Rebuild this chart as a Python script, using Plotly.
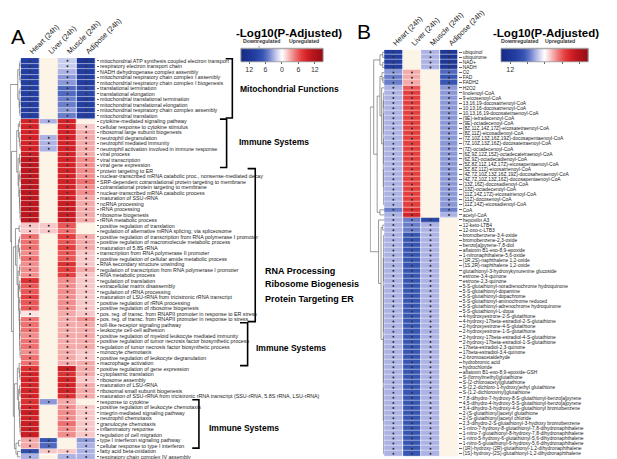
import plotly.graph_objects as go

W, H = 617, 459
def px(x): return x / W
def py(y): return 1 - y / H

N = None
columns = ["Heart (24h)", "Liver (24h)", "Muscle (24h)", "Adipose (24h)"]

a_labels = [
    "mitochondrial ATP synthesis coupled electron transport",
    "respiratory electron transport chain",
    "NADH dehydrogenase complex assembly",
    "mitochondrial respiratory chain complex I assembly",
    "mitochondrial respiratory chain complex I biogenesis",
    "translational termination",
    "translational elongation",
    "mitochondrial translational termination",
    "mitochondrial translational elongation",
    "mitochondrial respiratory chain complex assembly",
    "mitochondrial translation",
    "cytokine-mediated signaling pathway",
    "cellular response to cytokine stimulus",
    "ribosomal large subunit biogenesis",
    "neutrophil degranulation",
    "neutrophil mediated immunity",
    "neutrophil activation involved in immune response",
    "viral process",
    "viral transcription",
    "viral gene expression",
    "protein targeting to ER",
    "nuclear-transcribed mRNA catabolic proc., nonsense-mediated decay",
    "SRP-dependent cotranslational protein targeting to membrane",
    "cotranslational protein targeting to membrane",
    "nuclear-transcribed mRNA catabolic process",
    "maturation of SSU-rRNA",
    "ncRNA processing",
    "rRNA processing",
    "ribosome biogenesis",
    "rRNA metabolic process",
    "positive regulation of translation",
    "regulation of alternative mRNA splicing, via spliceosome",
    "positive regulation of transcription from RNA polymerase I promoter",
    "positive regulation of macromolecule metabolic process",
    "maturation of 5.8S rRNA",
    "transcription from RNA polymerase II promoter",
    "positive regulation of cellular amide metabolic process",
    "RNA secondary structure unwinding",
    "regulation of transcription from RNA polymerase I promoter",
    "RNA metabolic process",
    "regulation of translation",
    "extracellular matrix disassembly",
    "regulation of rRNA processing",
    "maturation of LSU-rRNA from tricistronic rRNA transcript",
    "positive regulation of rRNA processing",
    "positive regulation of ribosome biogenesis",
    "pos. reg. of transc. from RNAPII promoter in response to ER stress",
    "pos. reg. of transc. from RNAPII promoter in response to stress",
    "toll-like receptor signaling pathway",
    "leukocyte cell-cell adhesion",
    "positive regulation of myeloid leukocyte mediated immunity",
    "positive regulation of tumor necrosis factor biosynthetic process",
    "regulation of tumor necrosis factor biosynthetic process",
    "monocyte chemotaxis",
    "positive regulation of leukocyte degranulation",
    "macrophage activation",
    "positive regulation of gene expression",
    "cytoplasmic translation",
    "ribosome assembly",
    "maturation of LSU-rRNA",
    "ribosomal small subunit biogenesis",
    "maturation of SSU-rRNA from tricistronic rRNA transcript (SSU-rRNA, 5.8S rRNA, LSU-rRNA)",
    "response to cytokine",
    "positive regulation of leukocyte chemotaxis",
    "integrin-mediated signaling pathway",
    "neutrophil chemotaxis",
    "granulocyte chemotaxis",
    "inflammatory response",
    "regulation of cell migration",
    "type I interferon signaling pathway",
    "cellular response to type I interferon",
    "fatty acid beta-oxidation",
    "respiratory chain complex IV assembly",
]

a_heart = [-10, -10, -10, -10, -10, -10, -10, -10, -10, -10, -10,
           9, 9, 9, 9, 9, 9, 10, 11, 11, 11, 11, 11, 11, 11, 11, 11, 11, 11, 11,
           2, 2, 5, 5, 5, 4, 5, 4, 4, 4, 8, 6, 6, 7, 6, 6, 1, 5, 5, 5, 4, 5, 5, 4, 5, 5,
           8, 9, 9, 9, 9, 9, 8, 9, 10, 9, 10, 10, 10, 3, 3, -8, -3]
a_liver = [N, N, N, N, N, N, N, N, N, N, N,
           -3, N, N, -3, -3, -3, N, N, N, N, N, N, N, N, N, N, N, N, N,
           2, 2, N, N, N, N, N, N, N, N, N, N, N, N, N, N, N, N, N, N, N, N, N, N, N, N,
           N, N, N, N, N, N, -4, N, N, N, N, N, N, -7, -6, 2, N]
a_muscle = [-2, -2, -3, -4, -4, -6, -6, -5, -5, -4, -5,
            9, 9, 9, 9, 9, 9, 9, 9, 9, 9, 9, 9, 9, 9, 9, 10, 10, 10, 10,
            6, 5, 7, 6, 7, 6, 6, 8, 7, 7, 4, 4, 4, 4, 4, 4, 3, 3, 3, 3, 3, 3, 3, 3, 3, 3,
            10, 8, 9, 9, 9, 8, 3, 4, 4, 4, 5, 4, 4, N, N, 2, -3]
a_adipose = [-12, -10, -10, -10, -10, -9, -9, -10, -10, -10, -10,
             N, 2, 3, 3, 3, 3, 3, 4, 4, 4, 4, 5, 4, 4, 3, 3, 3, 3, 3,
             N, N, 3, 3, 3, 2, 2, 2, 3, 2, 2, 2, 2, 2, 2, 2, 2, 4, 3, 3, 3, 3, 3, 2, 2, 3,
             3, 3, 2, 3, 3, 3, N, 2, 2, 2, 2, 2, 2, -4, -3, -3, -3]

b_labels = [
    "ubiquinol", "ubiquinone", "NAD+", "NADH", "O2", "FAD", "FADH2", "H2O2",
    "linolenoyl-CoA", "9-eicosenoyl-CoA", "13,16,19-docosatrienoyl-CoA",
    "10,13,16-docosatrienoyl-CoA", "10,13,16,19-docosatetraenoyl-CoA",
    "(9E)-tetradecenoyl-CoA", "(9E)-octadecenoyl-CoA",
    "(8Z,11Z,14Z,17Z)-eicosatetraenoyl-CoA", "(8Z,11Z)-eicosadienoyl-CoA",
    "(7Z,10Z,13Z,16Z,19Z)-docosapentaenoyl-CoA", "(7Z,10Z,13Z,16Z)-docosatetraenoyl-CoA",
    "(7Z)-octadecenoyl-CoA", "(6Z,9Z,12Z,15Z)-octadecatetraenoyl-CoA",
    "(6Z,9Z)-octadecadienoyl-CoA", "(5Z,8Z,11Z,14Z,17Z)-eicosapentaenoyl-CoA",
    "(5Z,8Z,11Z)-eicosatrienoyl-CoA", "(4Z,7Z,10Z,13Z,16Z,19Z)-docosahexaenoyl-CoA",
    "(4Z,7Z,10Z,13Z,16Z)-docosapentaenoyl-CoA", "(13Z,16Z)-docosadienoyl-CoA",
    "(13Z)-octadecenoyl-CoA", "(11Z,14Z,17Z)-eicosatrienoyl-CoA",
    "(11Z)-docosenoyl-CoA", "(11Z,14Z)-eicosadienoyl-CoA", "CoA", "acetyl-CoA",
    "hepoxilin A3", "12-keto-LTB4", "12-oxo-c-LTB3", "bromobenzene-3,4-oxide",
    "bromobenzene-2,3-oxide", "benzo[a]pyrene-7,8-diol", "aflatoxin B1-exo-8,9-epoxide",
    "1-nitronaphthalene-5,6-oxide", "(1R,2S)-naphthalene 1,2-oxide",
    "(1S,2R)-naphthalene 1,2-oxide", "glutathionyl-3-hydroxykynurenine glucoside",
    "estrone-3,4-quinone", "estrone-2,3-quinone",
    "5-S-glutathionyl-noradrenochrome hydroquinone", "5-S-glutathionyl-dopamine",
    "5-S-glutathionyl-dopachrome", "5-S-glutathionyl-aminochrome reduced",
    "5-S-glutathionyl-adrenochrome hydroquinone", "5-S-glutathionyl-L-dopa",
    "4-hydroxyestrone-2-S-glutathione", "4-hydroxy-17beta-estradiol-2-S-glutathione",
    "2-hydroxyestrone-4-S-glutathione", "2-hydroxyestrone-1-S-glutathione",
    "2-hydroxy-17beta-estradiol-4-S-glutathione", "2-hydroxy-17beta-estradiol-1-S-glutathione",
    "17beta-estradiol-2,3-quinone", "17beta-estradiol-3,4-quinone",
    "2-bromoacetaldehyde", "hydrobromic acid", "hydrochloride",
    "aflatoxin B1-exo-8,9-epoxide-GSH", "S-(formylmethyl)glutathione",
    "S-(2-chloroacetyl)glutathione", "S-(2,2-dichloro-1-hydroxy)ethyl glutathione",
    "S-(1,2-dichlorovinyl)glutathione",
    "7,8-dihydro-7-hydroxy-8-S-glutathionyl-benzo[a]pyrene",
    "4,5-dihydro-4-hydroxy-5-S-glutathionyl-benzo[a]pyrene",
    "3,4-dihydro-3-hydroxy-4-S-glutathionyl bromobenzene",
    "2-(S-glutathionyl)acetyl glutathione", "2-(S-glutathionyl)acetyl chloride",
    "2,3-dihydro-2-S-glutathionyl-3-hydroxy bromobenzene",
    "1-nitro-7-hydroxy-8-glutathionyl-7,8-dihydronaphthalene",
    "1-nitro-7-glutathionyl-8-hydroxy-7,8-dihydronaphthalene",
    "1-nitro-5-hydroxy-6-glutathionyl-5,6-dihydronaphthalene",
    "1-nitro-5-glutathionyl-6-hydroxy-5,6-dihydronaphthalene",
    "(1R)-hydroxy-(2R)-glutathionyl-1,2-dihydronaphthalene",
    "(1S)-hydroxy-(2S)-glutathionyl-1,2-dihydronaphthalene",
]

b_heart = [-10, -10, -10, -10, -4, -5, -5, -3,
           -3, -3, -3, -3, -3, -3, -3, -3, -3, -3, -3, -3, -3, -3, -3, -3, -3, -3, -3, -3, -3, -3, -3,
           -5, -3, -3, -3, -3,
           -3, -3, -3, -3, -3, -3, -3, -3, -3, -3, -3, -3, -3, -3, -3, -3, -3, -3, -3, -3, -3, -3,
           -3, -3, -3, -3, -3, -3, -3, -3, -3, -3, -3, -3, -3, -3, -3, -3, -3, -3, -3, -3, -3, -3]
b_liver = [N, N, N, N, 3, 3, 3, 6,
           7, 7, 7, 7, 7, 7, 7, 7, 7, 7, 7, 7, 7, 7, 7, 7, 7, 7, 7, 7, 7, 7, 7,
           8, 9, -5, -5, -5,
           -7, -7, -7, -7, -7, -7, -7, -7, -7, -7, -7, -7, -7, -7, -7, -7, -7, -7, -7, -7, -7, -7,
           -7, -7, -7, -7, -7, -7, -7, -7, -7, -7, -7, -7, -7, -7, -7, -7, -7, -7, -7, -7, -7, -7]
b_muscle = [-3, -3, -3, -3, N, N, N, N,
            N, N, N, N, N, N, N, N, N, N, N, N, N, N, N, N, N, N, N, N, N, N, N,
            N, N, -9, -3, -3,
            -3, -3, -3, -3, -3, -3, -3, -3, -3, -3, -3, -3, -3, -3, -3, -3, -3, -3, -3, -3, -3, -3,
            -3, -3, -3, -3, -3, -3, -3, -3, -3, -3, -3, -3, -3, -3, -3, -3, -3, -3, -3, -3, -3, -3]
b_adipose = [-12, -12, -12, -12, -6, -7, -7, -4,
             -4, -4, -4, -4, -4, -4, -4, -4, -4, -4, -4, -4, -4, -4, -4, -4, -4, -4, -4, -4, -4, -4, -4,
             -5, -3, N, N, N,
             N, N, N, N, N, N, N, N, N, N, N, N, N, N, N, N, N, N, N, N, N, N,
             N, N, N, N, N, N, N, N, N, N, N, N, N, N, N, N, N, N, N, N, N, N]

# dendrograms: [merge height, child, child, ...]; ints are row indices
a_tree = [1.0,
          [0.28, [0.12, [0.06, 0, 1], [0.08, 2, [0.04, 3, 4]]],
                 [0.15, [0.06, 5, 6], [0.1, [0.05, 7, 8], [0.07, 9, 10]]]],
          [0.88,
           [0.38, [0.22, [0.1, 11, 12], [0.14, 13, [0.08, 14, [0.05, 15, 16]]]],
                  [0.25, [0.12, 17, [0.06, 18, 19]],
                         [0.18, [0.08, 20, [0.05, 21, 22]],
                                [0.12, [0.06, 23, 24], [0.1, 25, [0.07, 26, [0.05, 27, [0.04, 28, 29]]]]]]]],
           [0.7,
            [0.5, [0.15, 30, 31],
                  [0.35, [0.2, [0.1, 32, 33], [0.12, 34, [0.08, 35, 36]]],
                         [0.25, [0.12, [0.06, 37, 38], 39],
                                [0.2, [0.1, 40, [0.06, 41, 42]],
                                      [0.15, [0.08, 43, 44],
                                             [0.12, [0.05, 45, 46],
                                                    [0.1, [0.06, 47, 48],
                                                          [0.09, [0.05, 49, 50], [0.07, 51, [0.05, 52, [0.04, 53, 54]]]]]]]]]]],
            [0.6,
             [0.32, [0.15, 55, [0.1, 56, [0.06, 57, 58]]],
                    [0.2, [0.1, 59, [0.05, 60, 61]],
                          [0.14, 62, [0.1, [0.05, 63, 64], [0.08, 65, [0.05, 66, [0.04, 67, 68]]]]]]],
             [0.45, [0.2, 69, 70], [0.3, 71, 72]]]]]]

b_tree = [1.0,
          [0.75, [0.3, [0.1, 0, 1], [0.1, 2, 3]],
                 [0.5, [0.3, [0.15, 4, [0.08, 5, 6]],
                             [0.18, 7, [0.06, [0.03, 8, 9, 10, 11], [0.03, 12, 13, 14, 15, 16],
                                        [0.03, 17, 18, 19, 20, 21, 22],
                                        [0.03, 23, 24, 25, 26, 27, 28, 29, 30]]]],
                       [0.3, 31, 32]]],
          [0.4, 33, [0.22, [0.1, 34, 35],
                     [0.06, [0.03, 36, 37, 38, 39, 40, 41, 42, 43, 44, 45],
                      [0.03, 46, 47, 48, 49, 50, 51, 52, 53, 54, 55],
                      [0.03, 56, 57, 58, 59, 60, 61, 62, 63, 64, 65],
                      [0.03, 66, 67, 68, 69, 70, 71, 72, 73, 74, 75, 76, 77, 78, 79]]]]]

ZMAX = 15.0
stops = [(-15, 'rgb(22,42,135)'), (-10, 'rgb(35,62,160)'), (-7, 'rgb(55,85,178)'),
         (-5, 'rgb(105,125,202)'), (-3, 'rgb(172,178,228)'), (-1.5, 'rgb(215,218,242)'),
         (0, 'rgb(255,255,255)'), (1.5, 'rgb(250,215,215)'), (3, 'rgb(245,170,170)'),
         (5, 'rgb(238,112,112)'), (7, 'rgb(228,62,62)'), (9, 'rgb(212,35,40)'),
         (11, 'rgb(188,22,30)'), (15, 'rgb(150,12,20)')]
cscale = [[(v + ZMAX) / (2 * ZMAX), c] for v, c in stops]
CREAM = '#fdf4e8'
FONT = "Liberation Sans, Arial, sans-serif"


def dendro(node):
    xs, ys = [], []
    def rec(n):
        if isinstance(n, int):
            return float(n), 0.0
        h = n[0]
        kids = [rec(c) for c in n[1:]]
        for cy, ch in kids:
            xs.extend([ch, h, None]); ys.extend([cy, cy, None])
        cys = [k[0] for k in kids]
        xs.extend([h, h, None]); ys.extend([min(cys), max(cys), None])
        return (min(cys) + max(cys)) / 2, h
    rec(node)
    return xs, ys


fig = go.Figure()


def add_panel(cols, labels, tree, xa, ya, xd, yd, cbx, cblen, ticktext):
    n = len(labels)
    z = [[c[i] for c in cols] for i in range(n)]
    zna = [[1 if c[i] is None else None for c in cols] for i in range(n)]
    rows = list(range(n))
    fig.add_trace(go.Heatmap(z=zna, x=columns, y=rows, colorscale=[[0, CREAM], [1, CREAM]],
                             showscale=False, xaxis=xa, yaxis=ya, hoverinfo='skip'))
    fig.add_trace(go.Heatmap(z=z, x=columns, y=rows, colorscale=cscale, zmin=-ZMAX, zmax=ZMAX,
                             xgap=0.8, ygap=0.5, xaxis=xa, yaxis=ya,
                             colorbar=dict(orientation='h', x=px(cbx), xanchor='center',
                                           y=py(56), yanchor='bottom', len=cblen / W,
                                           thickness=13, xpad=0, ypad=0,
                                           outlinewidth=0.8, outlinecolor='#999',
                                           tickvals=[-12, -6, 0, 6, 12], ticktext=ticktext,
                                           ticks='outside', ticklen=2, tickcolor='#666',
                                           tickfont=dict(size=7, color='#333', family=FONT))))
    dx, dy = [], []
    for i in range(n):
        for j, c in enumerate(cols):
            if c[i] is not None:
                dx.append(columns[j]); dy.append(i)
    fig.add_trace(go.Scatter(x=dx, y=dy, mode='markers', xaxis=xa, yaxis=ya,
                             marker=dict(size=2, color='#333'), hoverinfo='skip', showlegend=False))
    tx, ty = dendro(tree)
    fig.add_trace(go.Scatter(x=tx, y=ty, mode='lines', xaxis=xd, yaxis=yd,
                             line=dict(color='#6e6e6e', width=0.7), hoverinfo='skip', showlegend=False))


add_panel([a_heart, a_liver, a_muscle, a_adipose], a_labels, a_tree, 'x', 'y', 'x3', 'y3',
          287, 86, ['12', '6', '0', '6', '12'])
add_panel([b_heart, b_liver, b_muscle, b_adipose], b_labels, b_tree, 'x2', 'y2', 'x4', 'y4',
          562.5, 91, ['12', '', '', '', ''])

nA, nB = len(a_labels), len(b_labels)
domA = [py(451.5), py(40.0)]
domB = [py(448), py(31.5)]
xcommon = dict(side='top', tickangle=-45, showgrid=False, zeroline=False, showline=False,
               ticks='', tickfont=dict(size=7.5, color='#222', family=FONT))
ycommon = dict(side='right', showgrid=False, zeroline=False, showline=False, tickmode='array',
               ticks='outside', ticklen=2.5, tickwidth=0.6, tickcolor='#666')
hidden = dict(visible=False, showgrid=False, zeroline=False)

fig.update_layout(
    width=W, height=H, margin=dict(l=0, r=0, t=0, b=0),
    paper_bgcolor='white', plot_bgcolor='rgba(0,0,0,0)', showlegend=False,
    font=dict(family=FONT),
    xaxis=dict(domain=[px(13.3), px(91.7)], anchor='y', **xcommon),
    yaxis=dict(domain=domA, anchor='x', range=[nA - 0.5, -0.5], tickvals=list(range(nA)),
               ticktext=a_labels, tickfont=dict(size=5.3, color='#222', family=FONT), **ycommon),
    xaxis2=dict(domain=[px(394), px(471.7)], anchor='y2', **xcommon),
    yaxis2=dict(domain=domB, anchor='x2', range=[nB - 0.5, -0.5], tickvals=list(range(nB)),
                ticktext=b_labels, tickfont=dict(size=4.9, color='#222', family=FONT), **ycommon),
    xaxis3=dict(domain=[px(2), px(13.3)], anchor='y3', range=[1.03, 0], **hidden),
    yaxis3=dict(domain=domA, anchor='x3', range=[nA - 0.5, -0.5], **hidden),
    xaxis4=dict(domain=[px(379), px(394)], anchor='y4', range=[1.03, 0], **hidden),
    yaxis4=dict(domain=domB, anchor='x4', range=[nB - 0.5, -0.5], **hidden),
)

shapes = []
# brackets for panel A: (first row, last row, vertical x px, left x px)
brackets = [(0, 10, 235, 228), (11, 19, 229, 222), (20, 47, 259, 251), (48, 55, 251, 243), (62, 70, 200, 193)]
for r0, r1, xv, xl in brackets:
    y0, y1 = r0 - 0.4, r1 + 0.4
    shapes.append(dict(type='path', xref='paper', yref='y',
                       path=f"M {px(xl)},{y0} L {px(xv)},{y0} L {px(xv)},{y1} L {px(xl)},{y1}",
                       line=dict(color='black', width=1.6)))

# colour key boxes
for x0, x1, xz, xt in [(244, 330, 287, 263), (517, 608, 562.5, None)]:
    shapes.append(dict(type='rect', xref='paper', yref='paper', x0=px(x0), x1=px(x1),
                       y0=py(43), y1=py(30), line=dict(color='#999', width=0.8)))
    shapes.append(dict(type='line', xref='paper', yref='paper', x0=px(xz), x1=px(xz),
                       y0=py(43), y1=py(30), line=dict(color='#999', width=0.8)))
    if xt:
        shapes.append(dict(type='line', xref='paper', yref='paper', x0=px(xt), x1=px(xt),
                           y0=py(30), y1=py(27), line=dict(color='#999', width=0.8)))
fig.update_layout(shapes=shapes)


def ann(text, x, y, size, xanchor='left', bold=False, color='black'):
    t = f"<b>{text}</b>" if bold else text
    fig.add_annotation(text=t, x=px(x), y=py(y), xref='paper', yref='paper', showarrow=False,
                       xanchor=xanchor, yanchor='middle', font=dict(size=size, color=color, family=FONT))


ann("A", 10, 18, 21, 'center')
ann("B", 373, 13, 21, 'center')
ann("-Log10(P-Adjusted)", 294, 14, 11.5, 'center', True)
ann("-Log10(P-Adjusted)", 564, 14, 11.5, 'center', True)
ann("Downregulated", 266, 23, 5.2, 'center', True, '#333')
ann("Upregulated", 310, 23, 5.2, 'center', True, '#333')
ann("Downregulated", 536, 23, 5.2, 'center', True, '#333')
ann("Upregulated", 578, 23, 5.2, 'center', True, '#333')
ann("Mitochondrial Functions", 241, 72, 8.5, 'left', True)
ann("Immune Systems", 240, 126, 8.5, 'left', True)
ann("RNA Processing", 267, 258, 9, 'left', True)
ann("Ribosome Biogenesis", 267, 272, 9, 'left', True)
ann("Protein Targeting ER", 267, 287, 9, 'left', True)
ann("Immune Systems", 258, 337, 8.5, 'left', True)
ann("Immune Systems", 208, 419, 8.5, 'left', True)

fig.write_html("out.html")
